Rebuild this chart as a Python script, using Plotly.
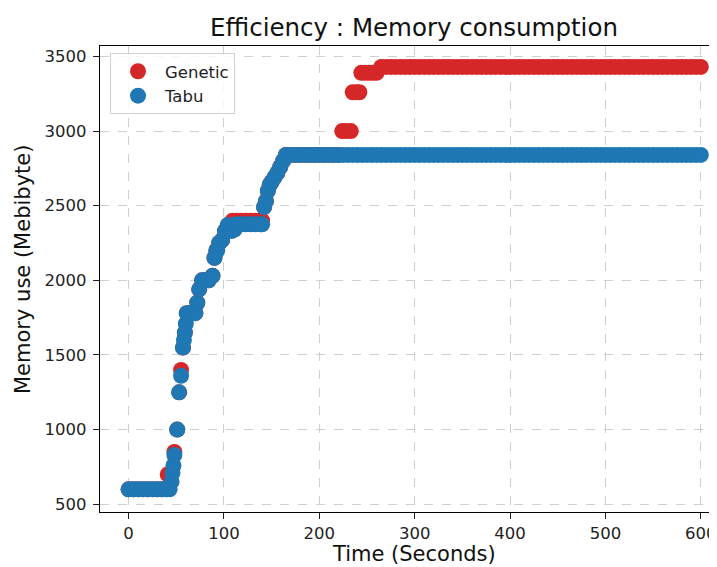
import plotly.graph_objects as go

# ---- data ----
tabu_time = [0, 5, 10, 15, 20, 25, 30, 35, 40, 43,
             45, 46, 47, 48, 51, 53, 55, 57, 58, 59,
             60, 61, 64, 67, 70, 72, 74, 77, 80, 84,
             88, 90, 92, 93, 95, 98, 101, 104, 108, 111,
             113, 118, 123, 128, 133, 138, 140, 142, 144, 146,
             148, 150, 153, 156, 159, 162, 165,
             170, 175, 180, 185, 190, 195, 200, 205, 210, 215,
             220, 225, 230, 235, 240, 245, 250, 255, 260, 265,
             270, 275, 280, 285, 290, 295, 300, 305, 310, 315,
             320, 325, 330, 335, 340, 345, 350, 355, 360, 365,
             370, 375, 380, 385, 390, 395, 400, 405, 410, 415,
             420, 425, 430, 435, 440, 445, 450, 455, 460, 465,
             470, 475, 480, 485, 490, 495, 500, 505, 510, 515,
             520, 525, 530, 535, 540, 545, 550, 555, 560, 565,
             570, 575, 580, 585, 590, 595, 600]
tabu_mem = [600, 600, 600, 600, 600, 600, 600, 600, 600, 600,
            650, 710, 760, 830, 1000, 1250, 1360, 1550, 1600, 1650,
            1710, 1780, 1780, 1780, 1780, 1850, 1940, 2000, 2000, 2000,
            2030, 2150, 2200, 2200, 2250, 2270, 2330, 2370, 2330, 2340,
            2375, 2375, 2375, 2375, 2375, 2375, 2375, 2490, 2530, 2600,
            2640, 2660, 2690, 2720, 2760, 2800, 2840,
            2840, 2840, 2840, 2840, 2840, 2840, 2840, 2840, 2840, 2840,
            2840, 2840, 2840, 2840, 2840, 2840, 2840, 2840, 2840, 2840,
            2840, 2840, 2840, 2840, 2840, 2840, 2840, 2840, 2840, 2840,
            2840, 2840, 2840, 2840, 2840, 2840, 2840, 2840, 2840, 2840,
            2840, 2840, 2840, 2840, 2840, 2840, 2840, 2840, 2840, 2840,
            2840, 2840, 2840, 2840, 2840, 2840, 2840, 2840, 2840, 2840,
            2840, 2840, 2840, 2840, 2840, 2840, 2840, 2840, 2840, 2840,
            2840, 2840, 2840, 2840, 2840, 2840, 2840, 2840, 2840, 2840,
            2840, 2840, 2840, 2840, 2840, 2840, 2840]

genetic_time = [0, 5, 10, 15, 20, 25, 30, 35, 40, 41,
                44, 48, 51, 53, 55, 57, 59, 61, 64, 67,
                70, 72, 74, 77, 80, 84, 88, 90, 92, 95,
                98, 101, 104, 109, 113, 118, 123, 128, 133, 138,
                140, 142, 144, 146, 148, 150, 153, 156, 159, 162,
                165, 170, 175, 180, 185, 190, 195, 200, 205, 210,
                215, 220, 224, 228, 233, 235, 239, 242, 244, 248,
                252, 256, 260,
                265, 270, 275, 280, 285, 290, 295, 300, 305, 310,
                315, 320, 325, 330, 335, 340, 345, 350, 355, 360,
                365, 370, 375, 380, 385, 390, 395, 400, 405, 410,
                415, 420, 425, 430, 435, 440, 445, 450, 455, 460,
                465, 470, 475, 480, 485, 490, 495, 500, 505, 510,
                515, 520, 525, 530, 535, 540, 545, 550, 555, 560,
                565, 570, 575, 580, 585, 590, 595, 600]
genetic_mem = [600, 600, 600, 600, 600, 600, 600, 600, 600, 700,
               700, 850, 1000, 1250, 1400, 1550, 1650, 1780, 1780, 1780,
               1780, 1850, 1940, 2000, 2000, 2000, 2030, 2150, 2200, 2250,
               2270, 2330, 2370, 2400, 2400, 2400, 2400, 2400, 2400, 2400,
               2400, 2490, 2530, 2600, 2640, 2660, 2690, 2720, 2760, 2800,
               2840, 2840, 2840, 2840, 2840, 2840, 2840, 2840, 2840, 2840,
               2840, 2840, 3000, 3000, 3000, 3260, 3260, 3260, 3390, 3390,
               3390, 3390, 3390,
               3430, 3430, 3430, 3430, 3430, 3430, 3430, 3430, 3430, 3430,
               3430, 3430, 3430, 3430, 3430, 3430, 3430, 3430, 3430, 3430,
               3430, 3430, 3430, 3430, 3430, 3430, 3430, 3430, 3430, 3430,
               3430, 3430, 3430, 3430, 3430, 3430, 3430, 3430, 3430, 3430,
               3430, 3430, 3430, 3430, 3430, 3430, 3430, 3430, 3430, 3430,
               3430, 3430, 3430, 3430, 3430, 3430, 3430, 3430, 3430, 3430,
               3430, 3430, 3430, 3430, 3430, 3430, 3430, 3430]

assert len(tabu_time) == len(tabu_mem)
assert len(genetic_time) == len(genetic_mem)

x_ticks = [0, 100, 200, 300, 400, 500, 600]
y_ticks = [500, 1000, 1500, 2000, 2500, 3000, 3500]

FONT = "DejaVu Sans"
OFF = 8  # page body margin in the browser
W, H = 717 - OFF, 567 - OFF
L, R, T, B = 100 - OFF, 0, 46 - OFF, 567 - 512
PW, PH = W - L - R, H - T - B

fig = go.Figure()
fig.add_trace(go.Scatter(x=genetic_time, y=genetic_mem, mode="markers", name="Genetic",
                         marker=dict(color="#d62728", size=16, line=dict(width=0))))
fig.add_trace(go.Scatter(x=tabu_time, y=tabu_mem, mode="markers", name="Tabu",
                         marker=dict(color="#1f77b4", size=16, line=dict(width=0))))

axis_common = dict(
    showline=True, linecolor="#000000", linewidth=1.2,
    ticks="outside", ticklen=6, tickwidth=1.1, tickcolor="#222222",
    showgrid=True, gridcolor="#cfcfcf", griddash="dash", gridwidth=1,
    zeroline=False, tickfont=dict(family=FONT, size=16.5, color="#222222"),
)
fig.update_xaxes(range=[-30, 617], tickvals=x_ticks, mirror=True, **axis_common)
fig.update_yaxes(range=[448, 3570], tickvals=y_ticks, mirror=False, ticklabelstandoff=3, **axis_common)


def px_x(p):
    return (p - OFF - L) / PW


def px_y(p):
    return ((H - B) - (p - OFF)) / PH


fig.update_layout(
    width=W, height=H,
    margin=dict(l=L, r=R, t=T, b=B, pad=0),
    paper_bgcolor="white", plot_bgcolor="white",
    font=dict(family=FONT, color="#222222"),
    title=dict(text="Efficiency : Memory consumption", font=dict(family=FONT, size=24.5, color="#111111"),
               xref="container", yref="container", x=(414 - OFF) / W, xanchor="center",
               y=1 - (27 - OFF) / H, yanchor="middle"),
    showlegend=True,
    legend=dict(x=px_x(110), y=px_y(53), xanchor="left", yanchor="top",
                bgcolor="rgba(255,255,255,0.8)", bordercolor="#d0d0d0", borderwidth=1,
                font=dict(family=FONT, size=16.5, color="#222222"), itemsizing="trace",
                itemwidth=44, tracegroupgap=0),
    annotations=[
        dict(text="Time (Seconds)", xref="paper", yref="paper",
             x=px_x(414), y=px_y(554),
             xanchor="center", yanchor="middle", showarrow=False,
             font=dict(family=FONT, size=21, color="#111111")),
        dict(text="Memory use (Mebibyte)", xref="paper", yref="paper", textangle=-90,
             x=px_x(23), y=px_y(270),
             xanchor="center", yanchor="middle", showarrow=False,
             font=dict(family=FONT, size=21, color="#111111")),
    ],
)

fig.write_html("out.html")
